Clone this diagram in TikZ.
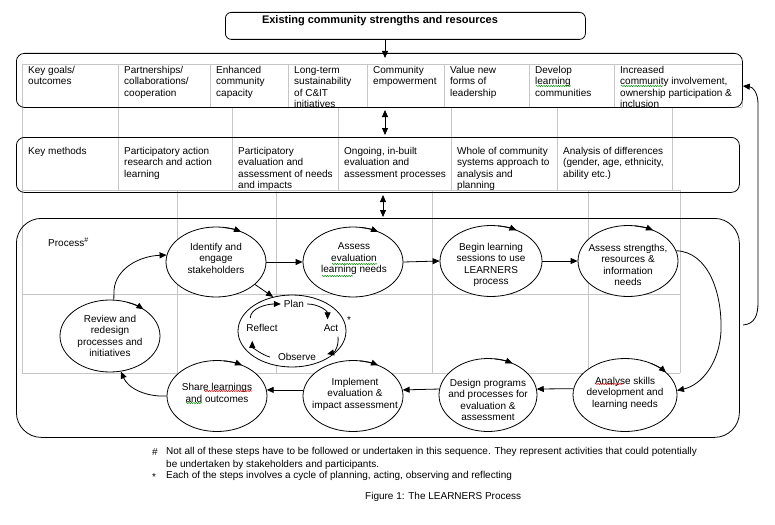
\documentclass[tikz,border=0pt]{standalone}
\usepackage{fontspec}
\setmainfont{Liberation Sans}
\usetikzlibrary{shapes.geometric,arrows.meta,decorations.pathmorphing}
\begin{document}
\begin{tikzpicture}[x=1pt,y=1pt,
  every node/.style={font=\fontsize{10}{11.5}\selectfont, inner sep=0pt},
  gline/.style={draw=gray!45, line width=0.8pt},
  boxline/.style={draw, line width=0.8pt, anchor=north west},
  proc/.style={draw, fill=white, ellipse, line width=0.8pt, inner sep=0pt},
  cell/.style={anchor=north west, align=left},
  etext/.style={align=center},
  arr/.style={line width=0.8pt, -{Triangle[length=7pt,width=6pt]}},
  darr/.style={line width=0.8pt, {Triangle[length=7pt,width=6pt]}-{Triangle[length=7pt,width=6pt]}},
  etip/.style={line width=0.8pt, -{Triangle[length=7pt,width=6pt]}},
  squigG/.style={draw=green!55!black, line width=0.5pt, decorate, decoration={snake, amplitude=0.6pt, segment length=2.4pt}},
  squigR/.style={draw=red!85!black, line width=0.5pt, decorate, decoration={snake, amplitude=0.6pt, segment length=2.4pt}},
]
\useasboundingbox (0,0) rectangle (775,-524);

% grey table grid
\draw[gline] (22,-64) -- (742,-64);
\draw[gline] (22,-107) -- (742,-107);
\foreach \x in {22,118,210,288,367,444,529,614,742} \draw[gline] (\x,-64) -- (\x,-107);
\foreach \x in {22,118,232,338,451,557,672} \draw[gline] (\x,-107) -- (\x,-190);
\draw[gline] (22,-190) -- (680,-190);
\foreach \x in {22,177,276,432,588,680} \draw[gline] (\x,-190) -- (\x,-373);
\draw[gline] (22,-294) -- (680,-294);
\draw[gline] (22,-373) -- (680,-373);

% boxes
\node[boxline, rounded corners=6pt, minimum width=360pt, minimum height=27pt] (top) at (225,-12) {};
\node[boxline, rounded corners=8pt, minimum width=726pt, minimum height=54pt] (goals) at (16,-53) {};
\node[boxline, rounded corners=8pt, minimum width=723pt, minimum height=55pt] (methods) at (16,-137) {};
\node[boxline, rounded corners=25pt, minimum width=723pt, minimum height=219pt] (process) at (16,-218) {};

\node[font=\fontsize{11}{13}\selectfont\bfseries] (title) at (380,-21) {Existing community strengths and resources};

% box arrows
\draw[arr] (385,0 |- top.south) -- (385,-58);
\draw[darr] (385,-110) -- (385,-135);
\draw[darr] (383,-195) -- (383,-217);

% key goals
\node[cell] (g0) at (28,-66) {Key goals/\\outcomes};
\node[cell] (g1) at (124,-66) {Partnerships/\\collaborations/\\cooperation};
\node[cell] (g2) at (216,-66) {Enhanced\\community\\capacity};
\node[cell] (g3) at (294,-66) {Long-term\\sustainability\\of C\&IT\\initiatives};
\node[cell] (g4) at (373,-66) {Community\\empowerment};
\node[cell] (g5) at (450,-66) {Value new\\forms of\\leadership};
\node[cell] (g6) at (535,-66) {Develop\\learning\\communities};
\node[cell] (g7) at (620,-66) {Increased\\community involvement,\\ownership participation \&\\inclusion};

% key methods
\node[cell] (m0) at (28,-147) {Key methods};
\node[cell] (m1) at (124,-147) {Participatory action\\research and action\\learning};
\node[cell] (m2) at (238,-147) {Participatory\\evaluation and\\assessment of needs\\and impacts};
\node[cell] (m3) at (344,-147) {Ongoing, in-built\\evaluation and\\assessment processes};
\node[cell] (m4) at (457,-147) {Whole of community\\systems approach to\\analysis and\\planning};
\node[cell] (m5) at (563,-147) {Analysis of differences\\(gender, age, ethnicity,\\ability etc.)};

% process
\node[anchor=west] (plabel) at (48,-242) {Process\textsuperscript{\#}};

\node[proc, minimum width=100pt, minimum height=70pt] (E1) at (216,-262) {};
\node[proc, minimum width=100pt, minimum height=70pt] (E2) at (353,-262) {};
\node[proc, minimum width=102pt, minimum height=71pt] (E3) at (491,-261) {};
\node[proc, minimum width=100pt, minimum height=71pt] (E4) at (628,-261) {};
\node[proc, minimum width=100pt, minimum height=72pt] (E5) at (110,-336) {};
\node[proc, minimum width=108pt, minimum height=72pt] (cyc) at (292,-331) {};
\node[proc, minimum width=100pt, minimum height=71pt] (E6) at (217,-396) {};
\node[proc, minimum width=100pt, minimum height=71pt] (E7) at (353,-396) {};
\node[proc, minimum width=98pt, minimum height=73pt] (E8) at (488,-395) {};
\node[proc, minimum width=104pt, minimum height=73pt] (E9) at (625,-395) {};

\node[etext] (t1) at (216,-258) {Identify and\\engage\\stakeholders};
\node[etext] (t2) at (354,-259) {Assess\\evaluation\\learning needs};
\node[etext] (t3) at (491,-265) {Begin learning\\sessions to use\\LEARNERS\\process};
\node[etext] (t4) at (628,-265) {Assess strengths,\\resources \&\\information\\needs};
\node[etext] (t5) at (110,-336) {Review and\\redesign\\processes and\\initiatives};
\node[etext] (t6) at (217,-393) {Share learnings\\and outcomes};
\node[etext] (t7) at (355,-394) {Implement\\evaluation \&\\impact assessment};
\node[etext] (t8) at (488,-400) {Design programs\\and processes for\\evaluation \&\\assessment};
\node[etext] (t9) at (625,-393) {Analyse skills\\development and\\learning needs};

\node (tplan) at (294,-304) {Plan};
\node (trefl) at (262,-328) {Reflect};
\node (tact) at (331,-328) {Act};
\node (tobs) at (297,-357) {Observe};
\node (star) at (349,-320) {*};

% small arrowheads on the ellipses
\foreach \n/\a/\b/\rx/\ry in {E1/82/60/50/35, E2/82/60/50/35, E3/82/60/51/35.5, E4/82/60/50/35.5, E5/70/48/50/36, E6/82/60/50/35.5, E7/82/60/50/35.5, E8/82/60/49/36.5, E9/60/38/52/36.5}
  \draw[etip] ([shift={(\a:{\rx} and {\ry})}]\n.center) arc[start angle=\a, end angle=\b, x radius=\rx, y radius=\ry];

% connectors
\draw[arr] (E1.east) -- (E2.west);
\draw[arr] (E2.east) -- (E3.west);
\draw[arr] (E3.east) -- (E4.west);
\draw[arr] (E4.12) .. controls (708,-252) and (722,-292) .. (721,-330) .. controls (720,-362) and (702,-385) .. (E9.5);
\draw[arr] (E9.173) -- (E8.7);
\draw[arr] (E8.173) -- (E7.7);
\draw[arr] (E7.173) -- (E6.7);
\draw[arr] (E6.west) .. controls (145,-397) and (128,-388) .. (E5.-73);
\draw[arr] (E5.84) -- (114,-290) .. controls (116,-268) and (140,-256) .. (E1.172);
\draw[arr] (E1.-30) -- (cyc.119);

% inner cycle
\draw[arr] ([xshift=4pt,yshift=6pt]trefl.north west) .. controls +(0,10) and +(-14,0) .. ([xshift=-3pt]tplan.west);
\draw[arr] ([xshift=3pt]tplan.east) .. controls +(12,0) and +(0,8) .. ([xshift=4pt,yshift=5pt]tact.north west);
\draw[arr] ([xshift=7pt,yshift=-5pt]tact.south) .. controls +(1,-8) and +(8,2) .. ([xshift=11pt,yshift=-1pt]tobs.north east);
\draw[arr] ([xshift=-8pt]tobs.west) .. controls +(-8,2) and +(0,-6) .. ([xshift=6pt,yshift=-9pt]trefl.south west);

% feedback to goals
\coordinate (fb) at (743,-325);
\draw[arr] (fb) .. controls (755,-324) and (758,-315) .. (758,-302) -- (758,-104) .. controls (758,-93) and (753,-87) .. (goals.east |- 0,-86);

% squiggles
\draw[squigG] (536,-86) -- (571,-86);
\draw[squigG] (621,-86) -- (663,-86);
\draw[squigG] (332,-264) -- (377,-264);
\draw[squigG] (322,-276) -- (353,-276);
\draw[squigR] (204,-391) -- (252,-391);
\draw[squigG] (186,-403) -- (202,-403);
\draw[squigR] (595,-384) -- (623,-384);

% footnotes
\node[anchor=west] (fnh) at (152,-452) {\#};
\node[anchor=west] (fn1a) at (166,-452) {Not all of these steps have to be followed or undertaken in this sequence. They represent activities that could potentially};
\node[anchor=west] (fn1b) at (166,-465) {be undertaken by stakeholders and participants.};
\node[anchor=west] (fns) at (152,-477) {*};
\node[anchor=west] (fn2) at (166,-476) {Each of the steps involves a cycle of planning, acting, observing and reflecting};
\node[anchor=west] (caption) at (365,-497) {Figure 1: The LEARNERS Process};
\end{tikzpicture}
\end{document}
